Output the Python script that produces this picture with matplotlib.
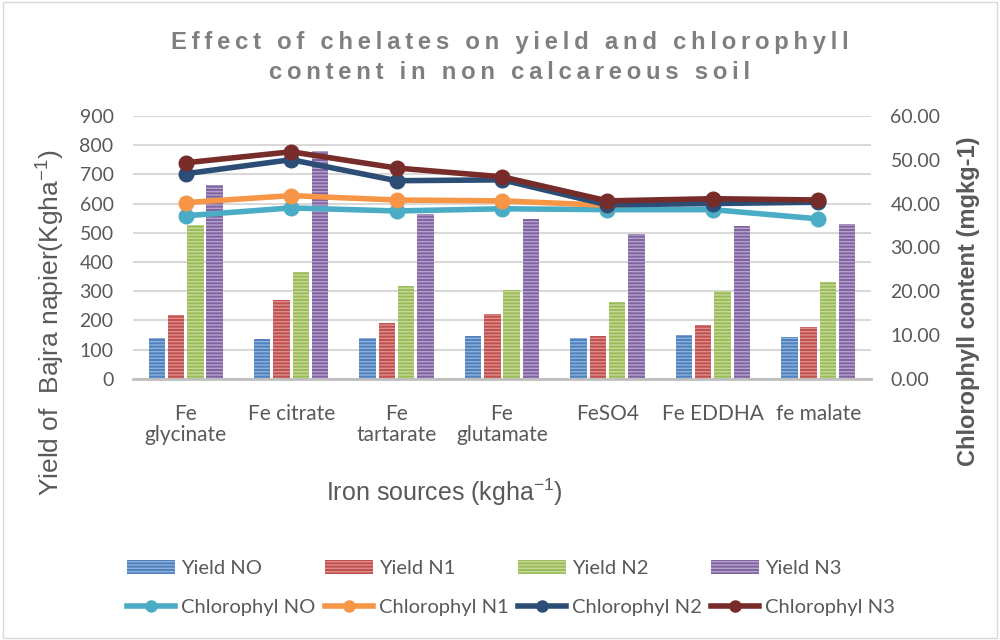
import numpy as np
import matplotlib.pyplot as plt
from matplotlib.patches import Rectangle

plt.rcParams['font.family'] = ['Liberation Sans', 'DejaVu Sans']
plt.rcParams['mathtext.fontset'] = 'custom'
plt.rcParams['mathtext.rm'] = 'Liberation Sans'
plt.rcParams['hatch.linewidth'] = 1.0

sources = ['Fe\nglycinate', 'Fe citrate', 'Fe\ntartarate', 'Fe\nglutamate',
           'FeSO4', 'Fe EDDHA', 'fe malate']

yield_n0 = [140, 137, 140, 147, 140, 150, 144]
yield_n1 = [219, 270, 192, 222, 147, 185, 178]
yield_n2 = [527, 366, 318, 304, 263, 301, 332]
yield_n3 = [664, 780, 565, 548, 496, 524, 530]

chl_n0 = [37.2, 39.0, 38.3, 38.8, 38.6, 38.6, 36.5]
chl_n1 = [40.2, 41.8, 40.8, 40.6, 39.6, 40.6, 40.6]
chl_n2 = [46.8, 50.0, 45.2, 45.4, 39.7, 40.0, 40.3]
chl_n3 = [49.3, 51.8, 48.1, 46.1, 40.6, 41.1, 40.8]

bar_names = ['Yield NO', 'Yield N1', 'Yield N2', 'Yield N3']
line_names = ['Chlorophyl NO', 'Chlorophyl N1', 'Chlorophyl N2', 'Chlorophyl N3']
bar_colors = ['#4F81BD', '#C0504D', '#9BBB59', '#8064A2']
hatch_colors = ['#8FB0DA', '#DC8E8C', '#C5DA9A', '#B4A2CB']
line_colors = ['#4BACC6', '#F79646', '#2C4D75', '#772C2A']

title_lines = ['Effect of chelates on yield and chlorophyll',
               'content in non calcareous soil']

fig = plt.figure(figsize=(10, 6.4), dpi=100)
fig.patches.append(Rectangle((0.003, 0.003), 0.994, 0.994, transform=fig.transFigure,
                             fill=False, edgecolor='#d9d9d9', linewidth=1))
ax = fig.add_axes([0.133, 0.408, 0.738, 0.411])
ax2 = ax.twinx()

x = np.arange(len(sources))
w = 0.155
step = 0.183
bar_handles = []
for i, vals in enumerate([yield_n0, yield_n1, yield_n2, yield_n3]):
    b = ax.bar(x + (i - 1.5) * step, vals, w, color=bar_colors[i], hatch='-----',
               edgecolor=hatch_colors[i], linewidth=0, label=bar_names[i], zorder=2)
    bar_handles.append(b)

line_handles = []
for i, vals in enumerate([chl_n0, chl_n1, chl_n2, chl_n3]):
    l, = ax2.plot(x, vals, color=line_colors[i], linewidth=4, marker='o',
                  markersize=10.5, label=line_names[i], zorder=3)
    line_handles.append(l)

ax.set_ylim(0, 900)
ax.set_yticks(range(0, 901, 100))
ax2.set_ylim(0, 60)
ax2.set_yticks(np.arange(0, 61, 10))
ax2.set_yticklabels(['%.2f' % v for v in np.arange(0, 61, 10)])
ax.set_xlim(-0.5, len(sources) - 0.5)
ax.set_xticks(x)
ax.set_xticklabels(sources, fontfamily=['Lato', 'DejaVu Sans'], fontsize=15,
                   linespacing=1.1)

ax.grid(axis='y', color='#d9d9d9', linewidth=1.5, zorder=0)
ax.set_axisbelow(True)
for a in (ax, ax2):
    for s in ('top', 'left', 'right'):
        a.spines[s].set_visible(False)
    a.tick_params(length=0, colors='#595959')
    for t in a.get_yticklabels():
        t.set_fontfamily(['Lato', 'DejaVu Sans'])
        t.set_fontsize(14)
ax.spines['bottom'].set_color('#bfbfbf')
ax.spines['bottom'].set_linewidth(2)
ax2.spines['bottom'].set_visible(False)
ax.tick_params(axis='x', pad=18)
ax.tick_params(axis='y', pad=14)
ax2.tick_params(axis='y', pad=14)

# axis titles placed in figure coordinates
fig.text(0.050, 0.495, 'Yield of  Bajra napier(Kgha$^{-1}$)', rotation=90,
         ha='center', va='center', fontsize=19, color='#595959')
fig.text(0.968, 0.530, 'Chlorophyll content (mgkg-1)', rotation=90,
         ha='center', va='center', fontsize=17, fontweight='bold', color='#595959')
fig.text(0.444, 0.230, 'Iron sources (kgha$^{-1}$)', ha='center', va='center',
         fontsize=18, color='#595959')

fig.text(0.51, 0.910, '\n'.join('\u2009'.join(line) for line in title_lines),
         ha='center', va='center', fontsize=17.2, fontweight='bold', color='#7f7f7f',
         linespacing=1.4)

handles = []
for b, l in zip(bar_handles, line_handles):
    handles += [b, l]
leg = fig.legend(handles, [h.get_label() for h in handles], ncol=4, loc='center',
                 bbox_to_anchor=(0.511, 0.081), frameon=False,
                 prop={'family': ['Lato', 'DejaVu Sans'], 'size': 14.5},
                 handlelength=2.4, columnspacing=0.45, labelspacing=1.1,
                 handletextpad=0.3, labelcolor='#595959')
for h in leg.legend_handles:
    if hasattr(h, 'set_markersize'):
        h.set_markersize(8)

plt.savefig('out.png', dpi=100)
